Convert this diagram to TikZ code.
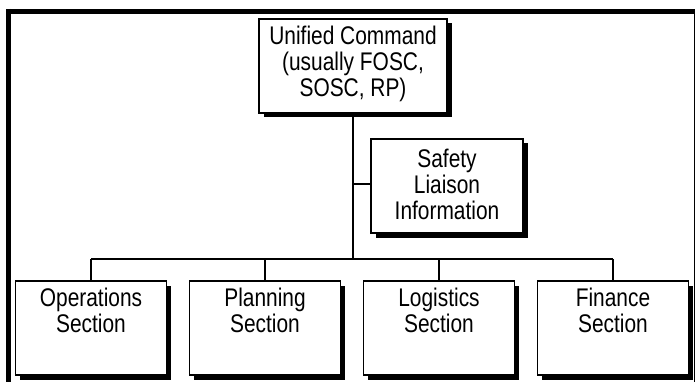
\documentclass[tikz,border=0pt]{standalone}
\usepackage{fontspec}
\setmainfont{Liberation Sans}[FakeStretch=0.82]
\usetikzlibrary{shadows}
\begin{document}
\begin{tikzpicture}[x=1pt,y=-1pt,
  box/.style={draw=black, line width=1.5pt, fill=white, inner sep=0pt,
    minimum height=94pt, align=center,
    drop shadow={shadow xshift=4.5pt, shadow yshift=-4.5pt, fill=black, opacity=1}},
  txt/.style={inner sep=0pt, align=center, font=\fontsize{25.5}{26}\selectfont},
  conn/.style={line width=1.5pt}]
\useasboundingbox (0,0) rectangle (695,382);
% frame
\draw[line width=5pt] (6,11.5) -- (695,11.5);
\draw[line width=5pt] (8.5,9) -- (8.5,382);
\draw[line width=1pt] (694,14) -- (694,382);
% boxes
\node[box, minimum width=188pt] (uc) at (353,66) {};
\node[txt] (uct) at (353,64) {Unified Command\\(usually FOSC,\\SOSC, RP)};
\node[box, minimum width=152pt] (sli) at (447,186) {};
\node[txt] (slit) at (447,184) {Safety\\Liaison\\Information};
\node[box, minimum width=151pt] (ops) at (91,328) {};
\node[box, minimum width=151pt] (pla) at (265,328) {};
\node[box, minimum width=151pt] (log) at (439,328) {};
\node[box, minimum width=151pt] (fin) at (613,328) {};
\node[txt, anchor=north] (opst) at ([yshift=-8pt]ops.north) {Operations\\Section};
\node[txt, anchor=north] (plat) at ([yshift=-8pt]pla.north) {Planning\\Section};
\node[txt, anchor=north] (logt) at ([yshift=-8pt]log.north) {Logistics\\Section};
\node[txt, anchor=north] (fint) at ([yshift=-8pt]fin.north) {Finance\\Section};
% connectors
\coordinate (jb) at (353,259);
\coordinate (js) at (353,184);
\coordinate (bl) at (91,259);
\coordinate (bp) at (265,259);
\coordinate (bg) at (439,259);
\coordinate (br) at (613,259);
\draw[conn] (uc.south) -- (jb);
\draw[conn] (js) -- (sli.west |- js);
\draw[conn] (bl) -- (br);
\draw[conn] (bl) -- (ops.north);
\draw[conn] (bp) -- (pla.north);
\draw[conn] (bg) -- (log.north);
\draw[conn] (br) -- (fin.north);
\end{tikzpicture}
\end{document}
